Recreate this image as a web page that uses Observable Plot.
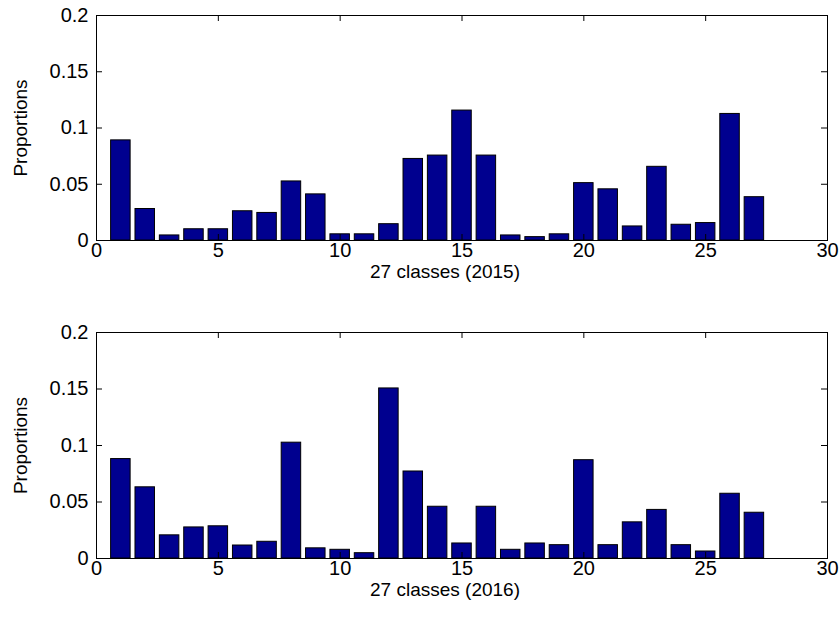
<!DOCTYPE html>
<html>
<head>
<meta charset="utf-8">
<script src="https://cdn.jsdelivr.net/npm/d3@7"></script>
<script src="https://cdn.jsdelivr.net/npm/@observablehq/plot@0.6"></script>
<style>
  html, body { margin: 0; padding: 0; background: #fff; }
  #chart { width: 839px; }
  #chart svg { display: block; }
</style>
</head>
<body>
<div id="chart"></div>
<script>
// Class indices 1..27
const classes = [1, 2, 3, 4, 5, 6, 7, 8, 9, 10, 11, 12, 13, 14, 15, 16, 17, 18, 19, 20, 21, 22, 23, 24, 25, 26, 27];

// Proportion of each class, 2015
const proportions2015 = [0.089, 0.028, 0.0045, 0.010, 0.010, 0.026, 0.0245, 0.0525, 0.041, 0.0055, 0.0055, 0.0145,
  0.0725, 0.0755, 0.1155, 0.0755, 0.0045, 0.003, 0.0055, 0.051, 0.0455, 0.0125, 0.0655, 0.014, 0.0155, 0.1125, 0.0385];

// Proportion of each class, 2016
const proportions2016 = [0.088, 0.063, 0.0205, 0.0275, 0.0285, 0.0115, 0.0148, 0.1025, 0.009, 0.0077, 0.0047, 0.1505,
  0.077, 0.0458, 0.0133, 0.0458, 0.0077, 0.0133, 0.0118, 0.087, 0.0118, 0.032, 0.043, 0.0118, 0.0062, 0.0573, 0.0405];

const xTicks = [0, 5, 10, 15, 20, 25, 30];
const yTicks = [0, 0.05, 0.1, 0.15, 0.2];
const xLabels = ["27 classes (2015)", "27 classes (2016)"];
const yLabel = "Proportions";

const font = "'Liberation Sans', Arial, Helvetica, sans-serif";
const W = 839, ML = 96, MR = 12, TICK = 6;

function panel(values, xLabel, height, marginTop, marginBottom) {
  const rows = classes.map((c, i) => ({cls: c, p: values[i]}));
  const innerH = height - marginTop - marginBottom;
  const innerW = W - ML - MR;
  return Plot.plot({
    width: W,
    height,
    marginTop,
    marginBottom,
    marginLeft: ML,
    marginRight: MR,
    style: {fontFamily: font, fontSize: "20px", background: "#fff", color: "#000", overflow: "visible"},
    x: {domain: [0, 30]},
    y: {domain: [0, 0.2]},
    marks: [
      Plot.rectY(rows, {x1: d => d.cls - 0.4, x2: d => d.cls + 0.4, y: "p", fill: "#00008F", stroke: "#000", strokeWidth: 1}),
      Plot.frame({stroke: "#000", strokeWidth: 1}),
      // tick labels
      Plot.axisX(xTicks, {anchor: "bottom", tickSize: 0, tickPadding: 2, label: null, fontSize: 20}),
      Plot.axisY(yTicks, {anchor: "left", tickSize: 0, tickPadding: 8, label: null, fontSize: 20, tickFormat: d => String(d)}),
      // inward ticks on all four sides
      Plot.tickX(xTicks, {x: d => d, insetTop: innerH - TICK, stroke: "#000"}),
      Plot.tickX(xTicks, {x: d => d, insetBottom: innerH - TICK, stroke: "#000"}),
      Plot.tickY(yTicks, {y: d => d, insetRight: innerW - TICK, stroke: "#000"}),
      Plot.tickY(yTicks, {y: d => d, insetLeft: innerW - TICK, stroke: "#000"}),
      // axis titles
      Plot.text([xLabel], {text: d => d, frameAnchor: "bottom", lineAnchor: "top", dy: 24, dx: -17, fontSize: 19}),
      Plot.text([yLabel], {text: d => d, frameAnchor: "left", rotate: -90, textAnchor: "middle", lineAnchor: "middle", dx: -76, fontSize: 19})
    ]
  });
}

const root = document.getElementById("chart");
root.append(panel(proportions2015, xLabels[0], 309, 15, 69));
root.append(panel(proportions2016, xLabels[1], 310, 23, 61));
</script>
</body>
</html>
